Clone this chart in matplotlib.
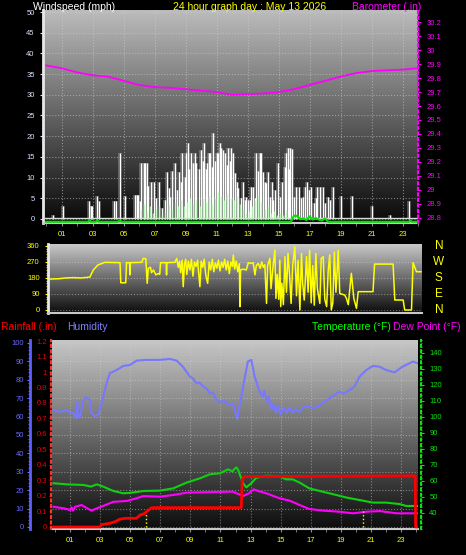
import numpy as np
import matplotlib
matplotlib.use('Agg')
import matplotlib.pyplot as plt
import matplotlib.transforms as mtrans
from matplotlib.colors import LinearSegmentedColormap
from matplotlib.ticker import MultipleLocator, FuncFormatter

plt.rcParams['font.family'] = ['Liberation Sans', 'DejaVu Sans']

# ---- data (hour of day, value) ----
gust = [(0.42, 1.0), (1.06, 3.2), (2.74, 4.4), (2.9, 3.2), (2.97, 3.2), (3.3, 5.6), (3.4, 4.4),
        (4.4, 4.4), (4.5, 4.4), (4.76, 16.0), (5.06, 5.6), (5.75, 5.8), (5.85, 5.8), (5.95, 5.8),
        (6.05, 4.2), (6.15, 13.6), (6.3, 13.6), (6.4, 13.6), (6.5, 13.6), (6.6, 8.0), (6.75, 9.0),
        (6.95, 9.0), (7.1, 5.0), (7.26, 9.0), (7.5, 2.6), (7.65, 4.5), (7.8, 11.4), (7.9, 7.5),
        (8.0, 5.4), (8.15, 11.5), (8.3, 13.6), (8.45, 7.0), (8.55, 11.4), (8.7, 9.0), (8.8, 15.9),
        (8.95, 10.2), (9.05, 16.0), (9.15, 18.3), (9.25, 12.0), (9.35, 15.9), (9.5, 13.4), (9.6, 16.0),
        (9.7, 13.4), (9.85, 12.0), (9.97, 16.7), (10.1, 14.0), (10.2, 18.3), (10.3, 12.0), (10.4, 13.4),
        (10.5, 16.0), (10.6, 15.9), (10.7, 12.5), (10.8, 20.7), (10.9, 14.0), (11.0, 15.9), (11.1, 16.0),
        (11.2, 18.3), (11.3, 17.1), (11.4, 16.7), (11.53, 15.9), (11.65, 13.0), (11.75, 17.1),
        (11.85, 14.0), (11.96, 17.1), (12.07, 15.9), (12.18, 11.0), (12.3, 9.0), (12.4, 7.4),
        (12.55, 5.0), (12.72, 9.0), (12.85, 4.6), (12.93, 5.4), (13.05, 4.6), (13.15, 4.6),
        (13.25, 7.8), (13.36, 7.8), (13.45, 5.0), (13.57, 15.9), (13.65, 11.5), (13.79, 15.9),
        (13.9, 16.0), (14.0, 11.4), (14.1, 9.0), (14.22, 8.6), (14.33, 11.4), (14.44, 5.4),
        (14.55, 9.0), (14.65, 4.6), (14.8, 7.0), (14.97, 13.4), (15.12, 5.4), (15.25, 9.0),
        (15.4, 12.6), (15.5, 16.0), (15.62, 17.1), (15.7, 12.0), (15.77, 17.1), (15.9, 17.0),
        (15.98, 5.4), (16.1, 7.8), (16.3, 7.8), (16.45, 5.0), (16.59, 5.4), (16.7, 7.8), (16.84, 9.0),
        (16.95, 7.0), (17.12, 7.8), (17.3, 3.8), (17.4, 5.0), (17.51, 7.8), (17.66, 7.8), (17.85, 7.8),
        (18.0, 3.8), (18.2, 5.4), (18.35, 4.6), (18.52, 7.8), (19.0, 5.6), (19.77, 5.6), (21.06, 3.1),
        (22.18, 1.0), (23.4, 4.35)]

wind_hours = [6.1, 6.3, 6.5, 6.7, 6.9, 7.1, 7.3, 7.5, 7.7, 7.9, 8.1, 8.3, 8.5, 8.7, 8.9, 9.1,
              9.3, 9.5, 9.7, 9.9, 10.1, 10.3, 10.5, 10.7, 10.9, 11.1, 11.3, 11.5, 11.7, 11.9,
              12.1, 12.3, 12.5, 12.7, 12.9, 13.1, 13.3, 13.5, 13.7, 13.9, 14.1, 14.3, 14.5,
              14.7, 14.9, 15.1, 15.3, 15.5]
wind_speed = [2.5, 3.5, 2.0, 3.0, 1.5, 2.5, 3.0, 1.0, 2.0, 3.5, 2.5, 4.0, 3.0, 4.5, 3.0, 4.0,
              5.0, 3.5, 4.5, 3.0, 5.0, 4.0, 5.5, 3.5, 5.0, 6.5, 5.5, 4.5, 6.0, 5.0,
              4.5, 5.5, 3.5, 2.5, 1.5, 2.0, 3.0, 4.5, 5.5, 4.0, 2.5, 3.0, 1.5,
              2.0, 1.0, 1.5, 1.0, 2.0]

avg_wind = [(0, 0), (2.7, 0), (2.8, 0.4), (2.9, 0), (3.2, 0), (3.3, 0.4), (3.4, 0), (4.6, 0),
            (4.75, 0.3), (4.9, 0), (15.8, 0), (16.0, 1.5), (16.2, 1.4), (16.4, 0.6), (16.6, 0.8),
            (16.8, 0.4), (17.0, 1.3), (17.2, 0.5), (17.4, 0.9), (17.6, 0.5), (17.8, 0.3), (18.0, 0.8),
            (18.2, 0), (23.4, 0), (23.5, 0.3), (23.6, 0), (24, 0)]

baro_hours = list(range(25))
baro = [29.89, 29.87, 29.84, 29.82, 29.81, 29.78, 29.75, 29.735, 29.73, 29.72, 29.71, 29.70,
        29.68, 29.685, 29.69, 29.70, 29.72, 29.75, 29.78, 29.81, 29.835, 29.85, 29.855, 29.86, 29.87]

wind_dir = [(0.0, 174), (0.6, 176), (1.0, 180), (1.5, 182), (2.0, 180), (2.58, 185), (2.8, 225),
            (3.1, 253), (3.55, 268), (4.53, 266), (4.58, 153), (4.9, 153), (4.95, 266), (5.15, 266),
            (5.17, 197), (5.2, 266), (5.93, 268), (6.03, 290), (6.2, 288), (6.29, 150), (6.36, 234),
            (6.5, 240), (6.57, 210), (6.7, 225), (6.85, 197), (7.0, 205), (7.1, 200), (7.15, 266),
            (7.52, 266), (7.54, 197), (7.56, 266), (8.08, 268), (8.2, 290), (8.3, 240), (8.38, 275),
            (8.45, 210), (8.55, 280), (8.62, 131), (8.7, 260), (8.78, 285), (8.85, 200), (8.95, 275),
            (9.05, 225), (9.15, 285), (9.25, 190), (9.35, 270), (9.45, 245), (9.55, 280), (9.62, 205),
            (9.7, 131), (9.78, 275), (9.88, 240), (9.98, 285), (10.08, 195), (10.2, 150), (10.3, 270),
            (10.4, 225), (10.5, 285), (10.6, 215), (10.7, 265), (10.8, 235), (10.9, 280), (11.0, 220),
            (11.1, 270), (11.2, 240), (11.3, 285), (11.4, 225), (11.5, 275), (11.6, 205), (11.7, 270),
            (11.8, 245), (11.86, 309), (11.95, 230), (12.05, 275), (12.15, 215), (12.25, 260),
            (12.29, 19), (12.33, 225), (12.5, 230), (12.7, 225), (12.83, 266), (13.0, 262),
            (13.15, 266), (13.26, 197), (13.35, 250), (13.47, 262), (13.6, 234), (13.7, 270),
            (13.8, 240), (13.9, 255), (14.01, 37), (14.08, 250), (14.23, 290), (14.3, 120),
            (14.45, 260), (14.55, 337), (14.62, 65), (14.7, 200), (14.8, 60), (14.87, 281),
            (14.93, 19), (15.0, 150), (15.1, 30), (15.2, 300), (15.3, 100), (15.4, 318), (15.5, 200),
            (15.6, 37), (15.7, 250), (15.84, 355), (15.95, 80), (16.05, 280), (16.17, 0), (16.27, 318),
            (16.35, 150), (16.45, 56), (16.6, 300), (16.7, 100), (16.8, 337), (16.9, 40), (17.0, 250),
            (17.1, 27), (17.2, 318), (17.3, 120), (17.46, 37), (17.55, 290), (17.68, 300), (17.78, 60),
            (17.9, 19), (18.0, 220), (18.1, 310), (18.2, 0), (18.3, 40), (18.4, 326), (18.5, 100),
            (18.65, 334), (18.75, 93), (19.07, 84), (19.18, 65), (19.3, 30), (19.5, 206), (19.66, 65),
            (19.83, 9), (19.94, 103), (20.9, 103), (21.0, 258), (22.2, 258), (22.31, 56), (22.85, 56),
            (22.95, 0), (23.39, 0), (23.49, 266), (23.71, 215), (24.0, 215)]

humidity = [(-0.1, 63.6), (0.3, 62.5), (0.78, 63.6), (1.0, 62), (1.22, 61.8), (1.44, 59), (1.48, 68),
            (1.52, 60), (1.66, 59.9), (1.88, 69), (2.1, 70.5), (2.32, 69), (2.43, 61.8), (2.65, 60),
            (2.88, 61), (3.1, 67.3), (3.43, 78.2), (3.65, 83.6), (4.1, 85.3), (4.54, 87.5), (4.98, 88),
            (5.42, 90.4), (6.09, 90.8), (6.97, 90.8), (7.64, 91.3), (8.09, 90.4), (8.5, 87.1),
            (8.97, 81.7), (9.2, 80.5), (9.4, 78), (9.6, 78.5), (9.86, 76.2), (10.1, 75), (10.3, 72.6),
            (10.5, 73), (10.7, 69.5), (10.96, 68), (11.2, 68.5), (11.6, 66.3), (11.83, 67.2),
            (12.1, 58.5), (12.5, 76.2), (12.82, 89.9), (13.05, 90.8), (13.27, 81.7), (13.6, 73.5),
            (13.8, 71), (13.9, 74), (14.1, 68), (14.2, 71), (14.4, 64), (14.5, 67), (14.7, 62),
            (14.8, 66), (15.0, 61), (15.2, 65), (15.4, 62), (15.6, 65), (15.8, 62), (16.0, 64),
            (16.26, 62.5), (16.5, 65), (16.9, 65.4), (17.2, 64.5), (17.6, 66.3), (18.25, 70),
            (18.9, 73.5), (19.2, 72.5), (19.6, 74.5), (19.9, 76.2), (20.25, 81.7), (20.7, 85.3),
            (21.13, 87.5), (21.57, 87.1), (22.0, 85.3), (22.57, 84), (23.1, 87.1), (23.8, 89.9),
            (24.1, 89)]

temperature = [(-0.1, 58.6), (0.8, 57.9), (1.9, 57.5), (2.4, 56.5), (2.77, 57.9), (3.2, 56.5),
               (3.88, 53.75), (4.54, 52.3), (5.0, 52.6), (5.9, 53.75), (6.97, 54), (7.86, 55.4),
               (8.75, 59), (9.64, 61.7), (10.3, 64.2), (10.97, 64.8), (11.5, 67.3), (11.8, 66),
               (11.9, 67.3), (12.06, 68.5), (12.17, 67), (12.5, 58.6), (12.72, 56), (13.05, 58.6),
               (13.38, 62), (14.04, 63.3), (14.93, 63), (15.37, 61), (15.8, 61), (16.26, 59),
               (16.9, 55.4), (17.6, 53.75), (18.5, 51.7), (19.4, 49.6), (20.25, 48.1), (21.13, 46.5),
               (22.0, 46.5), (22.9, 45.6), (23.35, 44.4), (24.1, 44.4)]

dew_point = [(-0.1, 43.9), (0.6, 42.9), (1.0, 41.9), (1.1, 43.5), (1.2, 41.5), (1.33, 43.9),
             (1.77, 45), (2.15, 42.9), (2.43, 41.5), (2.77, 42.9), (3.2, 44.4), (3.88, 47),
             (4.76, 47.5), (5.42, 49.2), (5.87, 50.6), (6.97, 50.2), (7.86, 51.25), (8.75, 52.7),
             (10.1, 53), (11.6, 53.3), (11.83, 53.3), (12.5, 50.6), (12.9, 52.3), (13.2, 54.8),
             (13.5, 53.75), (14.04, 52.3), (14.93, 49.2), (15.6, 47.7), (16.26, 45), (16.9, 42.5),
             (17.8, 41.5), (18.9, 40.8), (19.8, 39.8), (20.7, 40.8), (21.6, 41.2), (22.7, 39.8),
             (24.1, 39.8)]

rainfall = [(-0.1, 0), (3.0, 0), (3.1, 0.015), (3.65, 0.024), (3.98, 0.034), (4.3, 0.05),
            (4.64, 0.056), (5.42, 0.056), (5.65, 0.077), (5.98, 0.088), (6.09, 0.099),
            (6.43, 0.125), (12.38, 0.125), (12.45, 0.31), (12.6, 0.325), (23.95, 0.33),
            (23.97, 0), (24.1, 0)]

sun_marks = [6.05, 20.5]
hour_ticks = list(range(1, 24, 2))
hour_labels = ['%02d' % h for h in hour_ticks]

W, H = 466, 555
fig = plt.figure(figsize=(W / 100, H / 100), dpi=100, facecolor='black')


def rect(x0, y0, x1, y1):
    return [x0 / W, 1 - y1 / H, (x1 - x0) / W, (y1 - y0) / H]


def shade(ax, top, bottom):
    cmap = LinearSegmentedColormap.from_list('bg', [bottom, top])
    grad = np.linspace(0, 1, 256).reshape(-1, 1)
    ax.imshow(grad, cmap=cmap, aspect='auto', extent=[0, 1, 0, 1],
              transform=ax.transAxes, origin='lower', zorder=0)


def hours_axis(ax, labels=True):
    ax.set_xticks(hour_ticks)
    ax.set_xticklabels(hour_labels if labels else [])
    ax.xaxis.set_minor_locator(MultipleLocator(1))
    ax.tick_params(axis='x', which='both', colors='#909090', labelcolor='yellow',
                   labelsize=5.5, length=2, pad=4)


def clean(ax):
    for s in ax.spines.values():
        s.set_visible(False)


fmt = FuncFormatter(lambda v, p: '%g' % round(v, 2))

# ---------------- wind speed / barometer ----------------
ax_w = fig.add_axes(rect(43, 10, 418, 223))
shade(ax_w, '#bcbcbc', '#080808')
gh, gv = np.array(gust).T
ax_w.vlines(gh, 0, gv, color='#c8c8c8', lw=2.6, alpha=0.4, zorder=2)
ax_w.vlines(gh, 0, gv, color='white', lw=0.8, zorder=3)
ax_w.vlines(wind_hours, 0, wind_speed, color='#b0ffb0', lw=1.0, alpha=0.85, zorder=4)
ax_w.axhline(0.3, color='#d8d8d8', lw=1.0, zorder=3)
ah, av = np.array(avg_wind).T
ax_w.plot(ah, av - 0.7, color='#00e000', lw=1.5, zorder=5)
ax_w.set_xlim(-0.2, 24)
ax_w.set_ylim(-1, 50.5)
ax_w.set_yticks(range(0, 51, 5))
ax_w.yaxis.set_minor_locator(MultipleLocator(1))
ax_w.tick_params(axis='y', which='both', colors='#e0e0ff', labelsize=5.5, length=2, pad=4)
ax_w.tick_params(axis='y', which='minor', length=1)
hours_axis(ax_w)
ax_w.grid(True, which='major', color='#d0d0d0', ls=':', lw=0.8, alpha=0.55)
clean(ax_w)
ax_w.spines['left'].set_visible(True)
ax_w.spines['left'].set_color('#e8e8e8')
ax_w.spines['left'].set_linewidth(2)
ax_w.spines['bottom'].set_visible(True)
ax_w.spines['bottom'].set_color('#c8c8c8')
ax_w.spines['bottom'].set_linewidth(1.5)

ax_b = ax_w.twinx()
ax_b.plot(baro_hours, baro, color='#ff00ff', lw=1.3)
ax_b.set_ylim(28.764, 30.286)
ax_b.set_yticks(np.round(np.arange(28.8, 30.21, 0.1), 1))
ax_b.yaxis.set_major_formatter(fmt)
ax_b.yaxis.set_minor_locator(MultipleLocator(0.02))
ax_b.tick_params(axis='y', which='both', colors='#ff00ff', labelsize=5.5, length=2, pad=4)
ax_b.tick_params(axis='y', which='minor', length=1)
clean(ax_b)
ax_b.spines['right'].set_visible(True)
ax_b.spines['right'].set_color('#ff00ff')
ax_b.spines['right'].set_linestyle(':')
ax_b.spines['right'].set_linewidth(1.5)

fig.text(33 / W, 1 - 7 / H, 'Windspeed (mph)', color='white', fontsize=7.5, va='center')
fig.text(250 / W, 1 - 7 / H, '24 hour graph day : May 13 2026', color='yellow',
         fontsize=7.5, va='center', ha='center')
fig.text(421 / W, 1 - 7 / H, 'Barometer (.in)', color='#ff00ff', fontsize=7.5,
         va='center', ha='right')

# ---------------- wind direction ----------------
ax_d = fig.add_axes(rect(48, 244, 422, 313))
shade(ax_d, '#c8c8c8', '#0c0c0c')
dh, dv = np.array(wind_dir).T
ax_d.plot(dh, dv, color='#ffff00', lw=1.1, zorder=3)
ax_d.set_xlim(-0.13, 24.07)
ax_d.set_ylim(-17, 371)
ax_d.set_yticks([0, 90, 180, 270, 360])
ax_d.yaxis.set_minor_locator(MultipleLocator(15))
ax_d.tick_params(axis='y', which='both', colors='yellow', labelsize=5.5, length=2, pad=4)
ax_d.tick_params(axis='y', which='minor', length=1.5)
ax_d.set_xticks([])
ax_d.grid(True, axis='y', color='#d0d0d0', ls=':', lw=0.8, alpha=0.5)
clean(ax_d)
ax_d.spines['left'].set_visible(True)
ax_d.spines['left'].set_color('#e8e8e8')
ax_d.spines['left'].set_linewidth(2)
ax_d.spines['bottom'].set_visible(True)
ax_d.spines['bottom'].set_color('#c8c8c8')
ax_d.spines['bottom'].set_linewidth(1.5)
tr = mtrans.blended_transform_factory(ax_d.transAxes, ax_d.transData)
for deg, lab in zip([360, 270, 180, 90, 0], ['N', 'W', 'S', 'E', 'N']):
    ax_d.text(1.045, deg, lab, transform=tr, color='yellow', fontsize=8.5,
              ha='center', va='center')

# ---------------- rain / humidity / temperature ----------------
ax_h = fig.add_axes(rect(52, 340, 418, 529))
shade(ax_h, '#c8c8c8', '#0c0c0c')
hh, hv = np.array(humidity).T
ax_h.plot(hh, hv, color='#7878ff', lw=1.5, zorder=3)
ax_h.set_xlim(-0.2, 24.13)
ax_h.set_ylim(-1.1, 101.6)
ax_h.set_yticks(range(0, 101, 10))
ax_h.yaxis.set_minor_locator(MultipleLocator(2))
ax_h.tick_params(axis='y', which='both', colors='#6a6aff', labelsize=5.5, length=2.5, pad=2)
ax_h.tick_params(axis='y', which='minor', length=1.2)
hours_axis(ax_h)
ax_h.grid(True, which='major', color='#d0d0d0', ls=':', lw=0.8, alpha=0.5)
clean(ax_h)
ax_h.spines['left'].set_visible(True)
ax_h.spines['left'].set_position(('axes', -22 / 366))
ax_h.spines['left'].set_color('#6060ff')
ax_h.spines['left'].set_linewidth(2)
ax_h.spines['bottom'].set_visible(True)
ax_h.spines['bottom'].set_color('#c8c8c8')
ax_h.spines['bottom'].set_linewidth(1.5)

ax_t = ax_h.twinx()
th, tv = np.array(temperature).T
dph, dpv = np.array(dew_point).T
ax_t.plot(th, tv, color='#10d010', lw=1.5, zorder=3)
ax_t.plot(dph, dpv, color='#ff00ff', lw=1.5, zorder=3)
ax_t.set_ylim(30, 148.1)
ax_t.set_yticks(range(40, 141, 10))
ax_t.yaxis.set_minor_locator(MultipleLocator(2))
ax_t.tick_params(axis='y', which='both', colors='#10e010', labelsize=5.5, length=2, pad=4)
ax_t.tick_params(axis='y', which='minor', length=1)
clean(ax_t)
ax_t.spines['right'].set_visible(True)
ax_t.spines['right'].set_position(('axes', 1 + 3 / 366))
ax_t.spines['right'].set_color('#10e010')
ax_t.spines['right'].set_linestyle(':')
ax_t.spines['right'].set_linewidth(1.5)

ax_r = ax_h.twinx()
rh, rv = np.array(rainfall).T
ax_r.vlines(sun_marks, 0, 0.1, color='yellow', ls=':', lw=1.0, zorder=2)
ax_r.plot(rh, rv, color='#ff0000', lw=2, zorder=4)
ax_r.set_ylim(-0.013, 1.2065)
ax_r.yaxis.tick_left()
ax_r.set_yticks(np.round(np.arange(0, 1.21, 0.1), 1))
ax_r.yaxis.set_major_formatter(fmt)
ax_r.yaxis.set_minor_locator(MultipleLocator(0.02))
ax_r.tick_params(axis='y', which='both', colors='#ee0000', labelsize=5.5, length=1.5, pad=1.5)
ax_r.tick_params(axis='y', which='minor', length=0.8)
clean(ax_r)
ax_r.spines['left'].set_visible(True)
ax_r.spines['left'].set_position(('axes', -1 / 366))
ax_r.spines['left'].set_color('#ff3030')
ax_r.spines['left'].set_linestyle(':')
ax_r.spines['left'].set_linewidth(1.5)

fig.text(1 / W, 1 - 327 / H, 'Rainfall (.in)', color='#ff0000', fontsize=7.5, va='center')
fig.text(67 / W, 1 - 327 / H, 'Humidity', color='#8080ff', fontsize=7.5, va='center')
fig.text(312 / W, 1 - 327 / H, 'Temperature (°F)', color='#00ff00', fontsize=7.5, va='center')
fig.text(393 / W, 1 - 327 / H, 'Dew Point (°F)', color='#ff00ff', fontsize=7.5, va='center')

fig.savefig('out.png', dpi=100, facecolor='black')
